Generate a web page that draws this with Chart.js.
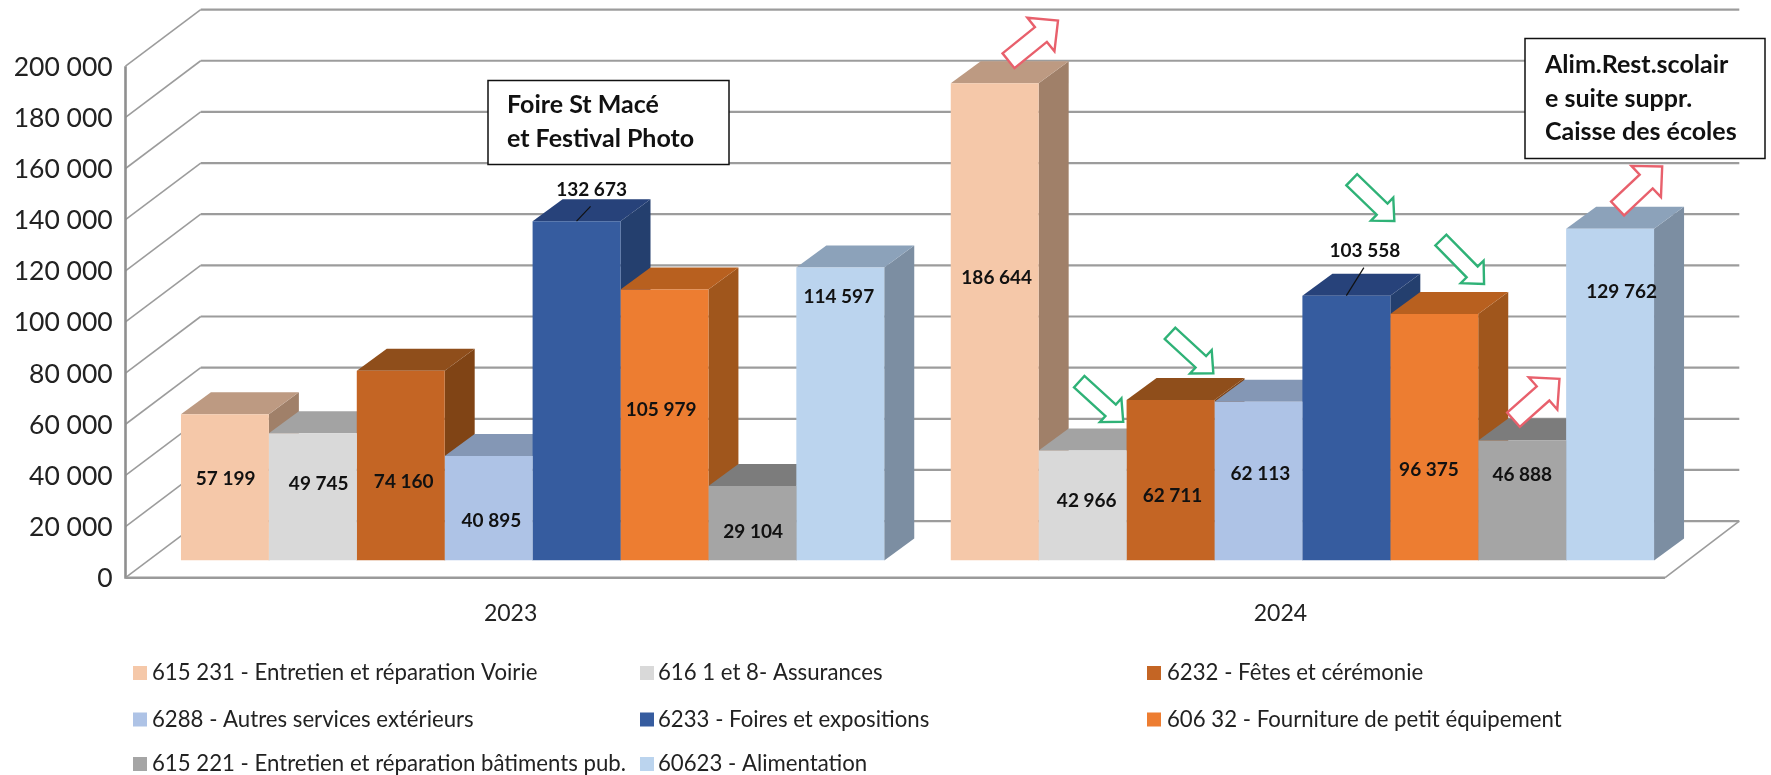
<!DOCTYPE html>
<html lang="fr">
<head>
<meta charset="utf-8">
<title>Dépenses 2023 - 2024</title>
<script src="https://cdn.jsdelivr.net/npm/chart.js@4.5.1/dist/chart.umd.js"></script>
<style>
  html, body { margin: 0; padding: 0; background: #fff; }
  canvas { display: block; }
</style>
</head>
<body>
<canvas id="chart" width="1771" height="775"></canvas>
<script>
const years = ["2023", "2024"];

const voirie = [57199, 186644];
const assurances = [49745, 42966];
const fetes = [74160, 62711];
const autresServices = [40895, 62113];
const foires = [132673, 103558];
const fourniture = [105979, 96375];
const batiments = [29104, 46888];
const alimentation = [114597, 129762];

const seriesValues = [voirie, assurances, fetes, autresServices, foires, fourniture, batiments, alimentation];
const seriesNames = [
  "615 231 - Entretien et réparation Voirie",
  "616 1 et 8- Assurances",
  "6232 - Fêtes et cérémonie",
  "6288 - Autres services extérieurs",
  "6233 - Foires et expositions",
  "606 32 - Fourniture de petit équipement",
  "615 221 - Entretien et réparation bâtiments pub.",
  "60623 - Alimentation"
];

const frontColors = ["#F5C8A9", "#D9D9D9", "#C46524", "#AEC3E6", "#365C9F", "#ED7D31", "#A5A5A5", "#BBD4EE"];
const topColors = ["#BD9A82", "#A3A3A3", "#8F4E1B", "#8497B5", "#27427A", "#B8601F", "#7C7C7C", "#8CA2BA"];
const sideColors = ["#A08069", "#8F8F8F", "#804415", "#74859F", "#243F6E", "#A0561C", "#6E6E6E", "#7C8EA2"];

// data labels were moved by hand in the original: shift from the middle of each bar
const labelShifts = [
  [[0.7, -8.4], [2, -44.4]],
  [[5.9, -12.9], [4.1, -4.4]],
  [[3, 16.3], [2, 15.2]],
  [[2.7, 12.8], [2, -6.7]],
  [[15, -201.4], [18.5, -177.4]],
  [[-3.3, -15.2], [-5.3, 32.5]],
  [[0.8, 8.5], [0.1, -26.1]],
  [[-1.5, -117], [11.5, -103]]
];

// arrows hang on a bar: [series, year, tail dx, tail dy, tip dx, tip dy, kind], relative to bar top
const arrows = [
  [0, 1, 13.8, -22.4, 63.3, -62.5, "up"],
  [1, 1, -3.4, -68.9, 40.6, -28.9, "down"],
  [2, 1, -0.5, -66.8, 42.8, -26.8, "down"],
  [4, 1, 5.4, -115.9, 48, -74.7, "down"],
  [5, 1, 6.6, -74, 49.8, -30, "down"],
  [6, 1, -8.7, -20.9, 37.3, -61.8, "up"],
  [7, 1, 7.5, -20.1, 52.1, -62.2, "up"]
];

const callouts = [
  { box: [488, 80.5, 241, 84], textX: 507, lines: [["Foire St Macé", 105], ["et Festival Photo", 139]] },
  { box: [1525, 38.5, 240, 120], textX: 1545, lines: [["Alim.Rest.scolair", 65], ["e suite suppr.", 99], ["Caisse des écoles", 132]] }
];

const FONT = "Lato, 'Open Sans', sans-serif";
const GRID = "#9C9C9C";
const BAR_DX = 30;
const BAR_DY = 22;
const FRONT_DX = -22.2;
const FRONT_DY = 17.2;
const BACK_DX = 53;
const BACK_DY = -39.4;

function fmt(value) {
  return String(value).replace(/\B(?=(\d{3})+$)/g, " ");
}

function line(ctx, x0, y0, x1, y1, width, color) {
  ctx.beginPath();
  ctx.moveTo(x0, y0);
  ctx.lineTo(x1, y1);
  ctx.lineWidth = width;
  ctx.strokeStyle = color;
  ctx.stroke();
}

function poly(ctx, points, color) {
  ctx.beginPath();
  points.forEach(([x, y], i) => (i ? ctx.lineTo(x, y) : ctx.moveTo(x, y)));
  ctx.closePath();
  ctx.fillStyle = color;
  ctx.fill();
}

function drawWalls(chart) {
  const { ctx, chartArea, scales } = chart;
  const left = chartArea.left;
  const right = chartArea.right;
  const frontL = left + FRONT_DX;
  const frontR = right + FRONT_DX;
  const backL = left + BACK_DX;
  const backR = right + BACK_DX - 1;

  scales.y.ticks.forEach(({ value }) => {
    const y = scales.y.getPixelForValue(value);
    line(ctx, frontL, y + FRONT_DY, backL, y + BACK_DY, 1.6, GRID);
    line(ctx, backL, y + BACK_DY, backR, y + BACK_DY, 2.2, GRID);
  });

  const base = scales.y.getPixelForValue(0);
  const top = scales.y.getPixelForValue(200000);
  line(ctx, frontL, top + FRONT_DY, frontL, base + FRONT_DY + 1, 2.6, "#8F8F8F");
  line(ctx, frontL, base + FRONT_DY, frontR, base + FRONT_DY, 2.6, "#9A9A9A");
  line(ctx, frontR, base + FRONT_DY, backR, base + BACK_DY, 1.6, GRID);
}

function drawBarDepth(chart) {
  const { ctx } = chart;
  chart.data.datasets.forEach((dataset, i) => {
    chart.getDatasetMeta(i).data.forEach((bar) => {
      const r = bar.x + bar.width / 2;
      const l = bar.x - bar.width / 2;
      poly(ctx, [[r, bar.base], [r + BAR_DX, bar.base - BAR_DY], [r + BAR_DX, bar.y - BAR_DY], [r, bar.y]], sideColors[i]);
      poly(ctx, [[l, bar.y], [l + BAR_DX, bar.y - BAR_DY], [r + BAR_DX, bar.y - BAR_DY], [r, bar.y]], topColors[i]);
    });
  });
}

function drawLabels(chart) {
  const { ctx } = chart;
  ctx.textAlign = "center";
  ctx.textBaseline = "middle";
  ctx.font = "bold 19px " + FONT;
  ctx.fillStyle = "#111";
  chart.data.datasets.forEach((dataset, i) => {
    chart.getDatasetMeta(i).data.forEach((bar, j) => {
      const [dx, dy] = labelShifts[i][j];
      const x = bar.x + dx;
      const y = (bar.y + bar.base) / 2 + dy;
      ctx.fillText(fmt(dataset.data[j]), x, y);
      if (i === 4) {
        line(ctx, x - 1, y + 17, bar.x, bar.y, 1.2, "#111");
      }
    });
  });
}

function drawArrows(chart) {
  const { ctx } = chart;
  arrows.forEach(([series, year, tx, ty, hx, hy, kind]) => {
    const bar = chart.getDatasetMeta(series).data[year];
    const x0 = bar.x + tx;
    const y0 = bar.y + ty;
    const x1 = bar.x + hx;
    const y1 = bar.y + hy;
    const len = Math.hypot(x1 - x0, y1 - y0);
    const ux = (x1 - x0) / len;
    const uy = (y1 - y0) / len;
    const up = kind === "up";
    const shaft = (up ? 19 : 15.5) / 2;
    const head = (up ? 43 : 32) / 2;
    const headLen = up ? 22 : 17;
    const bx = x1 - ux * headLen;
    const by = y1 - uy * headLen;
    const px = -uy;
    const py = ux;
    ctx.beginPath();
    ctx.moveTo(x0 + px * shaft, y0 + py * shaft);
    ctx.lineTo(bx + px * shaft, by + py * shaft);
    ctx.lineTo(bx + px * head, by + py * head);
    ctx.lineTo(x1, y1);
    ctx.lineTo(bx - px * head, by - py * head);
    ctx.lineTo(bx - px * shaft, by - py * shaft);
    ctx.lineTo(x0 - px * shaft, y0 - py * shaft);
    ctx.closePath();
    ctx.fillStyle = "#fff";
    ctx.fill();
    ctx.lineWidth = 2.4;
    ctx.strokeStyle = up ? "#E8606C" : "#2FB277";
    ctx.stroke();
  });
}

function drawCallouts(chart) {
  const { ctx } = chart;
  ctx.textAlign = "left";
  ctx.textBaseline = "middle";
  ctx.font = "bold 25px " + FONT;
  callouts.forEach(({ box, textX, lines }) => {
    ctx.fillStyle = "#fff";
    ctx.fillRect(...box);
    ctx.lineWidth = 1.5;
    ctx.strokeStyle = "#111";
    ctx.strokeRect(...box);
    ctx.fillStyle = "#111";
    lines.forEach(([text, y]) => ctx.fillText(text, textX, y));
  });
}

function drawLegend(chart) {
  const { ctx } = chart;
  const swatches = [133, 640, 1147];
  const texts = [152, 658, 1167];
  const rows = [673, 719.5, 764];
  ctx.textAlign = "left";
  ctx.textBaseline = "middle";
  ctx.font = "22.2px " + FONT;
  chart.data.datasets.forEach((dataset, i) => {
    const y = rows[Math.floor(i / 3)];
    ctx.fillStyle = dataset.backgroundColor;
    ctx.fillRect(swatches[i % 3], y - 7, 14, 14);
    ctx.fillStyle = "#222";
    ctx.fillText(dataset.label, texts[i % 3], y);
  });
}

const depthPlugin = {
  id: "depth",
  beforeDatasetsDraw(chart) {
    drawWalls(chart);
    drawBarDepth(chart);
  },
  afterDatasetsDraw(chart) {
    drawLabels(chart);
    drawArrows(chart);
    drawCallouts(chart);
    drawLegend(chart);
  }
};

new Chart(document.getElementById("chart"), {
  type: "bar",
  data: {
    labels: years,
    datasets: seriesNames.map((name, i) => ({
      label: name,
      data: seriesValues[i],
      backgroundColor: frontColors[i],
      borderWidth: 0,
      categoryPercentage: 0.9136,
      barPercentage: 1
    }))
  },
  options: {
    responsive: false,
    animation: false,
    devicePixelRatio: 1,
    layout: { padding: { left: 0, right: 83.7, top: 49, bottom: 0 } },
    plugins: { legend: { display: false }, tooltip: { enabled: false }, title: { display: false } },
    scales: {
      x: {
        grid: { display: false },
        border: { display: false },
        ticks: { color: "#222", font: { family: FONT, size: 23 }, padding: 31, labelOffset: -22, maxRotation: 0 },
        afterFit(scale) {
          scale.height = 214.5;
          scale.paddingLeft = 0;
          scale.paddingRight = 0;
        }
      },
      y: {
        min: 0,
        max: 200000,
        grid: { display: false },
        border: { display: false },
        ticks: {
          stepSize: 20000,
          color: "#222",
          font: { family: FONT, size: 26.5 },
          padding: 27,
          labelOffset: 18.2,
          callback: (value) => fmt(value)
        },
        afterFit(scale) {
          scale.width = 147.7;
          scale.paddingTop = 0;
          scale.paddingBottom = 0;
        }
      }
    }
  },
  plugins: [depthPlugin]
});
</script>
</body>
</html>
